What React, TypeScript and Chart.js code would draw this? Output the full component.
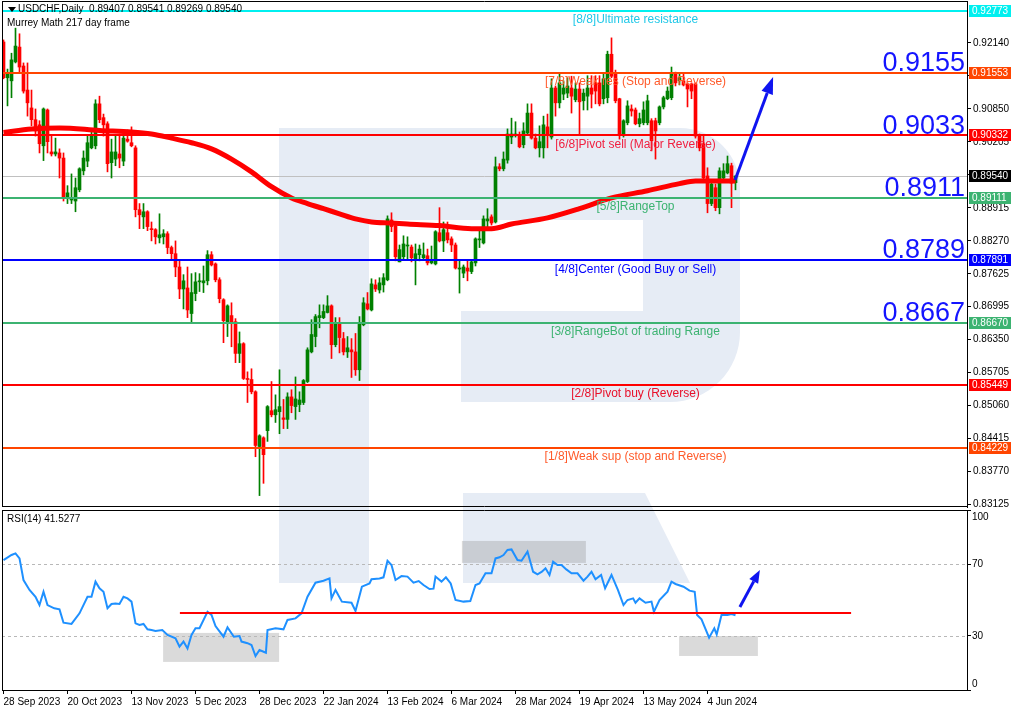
import React, { useEffect, useRef } from "react";
import { Chart, registerables } from "chart.js";

Chart.register(...registerables);

const FONT = "'Liberation Sans', Arial, sans-serif";

// ---- Candles (USDCHF daily) ----
const open = [
  0.9216, 0.9146, 0.9140, 0.9177, 0.9206, 0.9169, 0.9122, 0.9087, 0.9064, 0.9054,
  0.9013, 0.9083, 0.9001, 0.8997, 0.8999, 0.8989, 0.8911, 0.8907, 0.8905, 0.8927,
  0.8964, 0.8983, 0.9009, 0.9013, 0.9095, 0.9068, 0.9056, 0.8980, 0.8987, 0.8997,
  0.8983, 0.9026, 0.9019, 0.9009, 0.8888, 0.8874, 0.8884, 0.8851, 0.8849, 0.8833,
  0.8835, 0.8841, 0.8814, 0.8802, 0.8776, 0.8733, 0.8735, 0.8685, 0.8724, 0.8747,
  0.8745, 0.8749, 0.8800, 0.8782, 0.8751, 0.8712, 0.8667, 0.8681, 0.8669, 0.8607,
  0.8626, 0.8558, 0.8556, 0.8532, 0.8425, 0.8442, 0.8456, 0.8495, 0.8487, 0.8493,
  0.8481, 0.8478, 0.8522, 0.8503, 0.8507, 0.8511, 0.8552, 0.8610, 0.8640, 0.8677,
  0.8677, 0.8687, 0.8700, 0.8624, 0.8667, 0.8636, 0.8610, 0.8614, 0.8610, 0.8575,
  0.8663, 0.8704, 0.8692, 0.8741, 0.8731, 0.8741, 0.8751, 0.8868, 0.8857, 0.8786,
  0.8796, 0.8817, 0.8815, 0.8790, 0.8800, 0.8794, 0.8798, 0.8784, 0.8782, 0.8843,
  0.8827, 0.8843, 0.8831, 0.8819, 0.8772, 0.8764, 0.8774, 0.8767, 0.8784, 0.8829,
  0.8823, 0.8866, 0.8874, 0.8864, 0.8972, 0.8968, 0.8985, 0.9030, 0.9034, 0.9034,
  0.9015, 0.9038, 0.9077, 0.9028, 0.9009, 0.9009, 0.9050, 0.9030, 0.9126, 0.9097,
  0.9114, 0.9116, 0.9126, 0.9103, 0.9124, 0.9101, 0.9110, 0.9126, 0.9136, 0.9136,
  0.9105, 0.9107, 0.9192, 0.9153, 0.9105, 0.9034, 0.9058, 0.9085, 0.9083, 0.9056,
  0.9058, 0.9058, 0.9062, 0.9062, 0.9058, 0.9089, 0.9105, 0.9107, 0.9153, 0.9140,
  0.9140, 0.9134, 0.9134, 0.9134, 0.9032, 0.9017, 0.8954, 0.8900, 0.8931, 0.8892,
  0.8950, 0.8960, 0.8974, 0.89407,
];
const high = [
  0.9220, 0.9163, 0.9194, 0.9243, 0.9232, 0.9175, 0.9175, 0.9122, 0.9085, 0.9062,
  0.9087, 0.9085, 0.9032, 0.9028, 0.9007, 0.8999, 0.8935, 0.8958, 0.8950, 0.8970,
  0.9003, 0.9034, 0.9040, 0.9103, 0.9110, 0.9075, 0.9060, 0.9026, 0.9032, 0.9036,
  0.9038, 0.9044, 0.9050, 0.9013, 0.8900, 0.8900, 0.8886, 0.8864, 0.8851, 0.8880,
  0.8849, 0.8845, 0.8817, 0.8827, 0.8790, 0.8761, 0.8776, 0.8763, 0.8765, 0.8763,
  0.8778, 0.8808, 0.8806, 0.8784, 0.8755, 0.8714, 0.8702, 0.8706, 0.8675, 0.8649,
  0.8628, 0.8571, 0.8577, 0.8534, 0.8448, 0.8444, 0.8505, 0.8552, 0.8526, 0.8575,
  0.8517, 0.8530, 0.8536, 0.8561, 0.8532, 0.8556, 0.8618, 0.8673, 0.8683, 0.8702,
  0.8702, 0.8720, 0.8702, 0.8677, 0.8677, 0.8648, 0.8640, 0.8636, 0.8646, 0.8679,
  0.8716, 0.8726, 0.8753, 0.8751, 0.8755, 0.8763, 0.8876, 0.8882, 0.8858, 0.8819,
  0.8837, 0.8835, 0.8819, 0.8821, 0.8819, 0.8823, 0.8811, 0.8817, 0.8847, 0.8892,
  0.8864, 0.8864, 0.8835, 0.8823, 0.8790, 0.8780, 0.8790, 0.8790, 0.8833, 0.8853,
  0.8876, 0.8890, 0.8878, 0.8991, 0.8978, 0.9001, 0.9046, 0.9067, 0.9060, 0.9040,
  0.9058, 0.9095, 0.9095, 0.9036, 0.9052, 0.9071, 0.9075, 0.9144, 0.9130, 0.9153,
  0.9140, 0.9146, 0.9149, 0.9136, 0.9136, 0.9124, 0.9150, 0.9150, 0.9150, 0.9150,
  0.9153, 0.9198, 0.9224, 0.9161, 0.9106, 0.9064, 0.9101, 0.9093, 0.9087, 0.9077,
  0.9099, 0.9112, 0.9066, 0.9067, 0.9091, 0.9110, 0.9128, 0.9167, 0.9157, 0.9155,
  0.9153, 0.9136, 0.9136, 0.9136, 0.9036, 0.9032, 0.8970, 0.8946, 0.8938, 0.8970,
  0.8978, 0.8993, 0.8979, 0.89541,
];
const low = [
  0.9144, 0.9091, 0.9107, 0.9175, 0.9155, 0.9116, 0.9071, 0.9052, 0.9032, 0.8999,
  0.8984, 0.8999, 0.8993, 0.8993, 0.8950, 0.8905, 0.8900, 0.8900, 0.8884, 0.8923,
  0.8956, 0.8972, 0.9007, 0.9007, 0.9058, 0.9032, 0.8962, 0.8950, 0.8974, 0.8970,
  0.8974, 0.9020, 0.9011, 0.8874, 0.8851, 0.8851, 0.8847, 0.8827, 0.8821, 0.8823,
  0.8821, 0.8802, 0.8790, 0.8757, 0.8714, 0.8694, 0.8677, 0.8667, 0.8710, 0.8728,
  0.8726, 0.8741, 0.8778, 0.8747, 0.8706, 0.8628, 0.8640, 0.8620, 0.8589, 0.8589,
  0.8556, 0.8511, 0.8528, 0.8405, 0.8329, 0.8353, 0.8435, 0.8483, 0.8472, 0.8450,
  0.8460, 0.8460, 0.8491, 0.8478, 0.8493, 0.8507, 0.8550, 0.8608, 0.8620, 0.8657,
  0.8675, 0.8686, 0.8597, 0.8620, 0.8608, 0.8604, 0.8599, 0.8560, 0.8564, 0.8554,
  0.8661, 0.8692, 0.8690, 0.8728, 0.8725, 0.8727, 0.8749, 0.8845, 0.8788, 0.8786,
  0.8792, 0.8790, 0.8786, 0.8741, 0.8788, 0.8790, 0.8780, 0.8782, 0.8780, 0.8825,
  0.8806, 0.8823, 0.8806, 0.8772, 0.8725, 0.8755, 0.8749, 0.8763, 0.8778, 0.8814,
  0.8821, 0.8851, 0.8858, 0.8862, 0.8964, 0.8964, 0.8979, 0.9017, 0.9030, 0.9009,
  0.9009, 0.9036, 0.9026, 0.9007, 0.8991, 0.8989, 0.9009, 0.9026, 0.9071, 0.9087,
  0.9103, 0.9107, 0.9077, 0.9099, 0.9036, 0.9083, 0.9083, 0.9087, 0.9095, 0.9091,
  0.9095, 0.9097, 0.9146, 0.9097, 0.9026, 0.9030, 0.9054, 0.9071, 0.9054, 0.9050,
  0.9054, 0.9054, 0.9003, 0.8987, 0.9054, 0.9085, 0.9103, 0.9103, 0.9130, 0.9132,
  0.9130, 0.9089, 0.9105, 0.9028, 0.9003, 0.8946, 0.8882, 0.8896, 0.8886, 0.8880,
  0.8946, 0.8958, 0.8892, 0.89269,
];
const close = [
  0.9146, 0.9153, 0.9181, 0.9208, 0.9167, 0.9120, 0.9097, 0.9064, 0.9042, 0.9017,
  0.9085, 0.9021, 0.8997, 0.9001, 0.8989, 0.8913, 0.8921, 0.8911, 0.8931, 0.8968,
  0.8989, 0.9019, 0.9032, 0.9095, 0.9064, 0.9054, 0.8978, 0.9001, 0.9001, 0.8989,
  0.9028, 0.9022, 0.9013, 0.8888, 0.8878, 0.8884, 0.8855, 0.8849, 0.8835, 0.8839,
  0.8841, 0.8814, 0.8802, 0.8776, 0.8733, 0.8749, 0.8692, 0.8726, 0.8747, 0.8749,
  0.8749, 0.8800, 0.8780, 0.8751, 0.8714, 0.8671, 0.8700, 0.8667, 0.8607, 0.8626,
  0.8558, 0.8556, 0.8532, 0.8427, 0.8446, 0.8409, 0.8503, 0.8487, 0.8497, 0.8503,
  0.8478, 0.8522, 0.8505, 0.8518, 0.8516, 0.8554, 0.8614, 0.8644, 0.8679, 0.8681,
  0.8689, 0.8700, 0.8624, 0.8667, 0.8638, 0.8610, 0.8618, 0.8610, 0.8575, 0.8667,
  0.8706, 0.8694, 0.8743, 0.8733, 0.8745, 0.8755, 0.8870, 0.8855, 0.8796, 0.8810,
  0.8821, 0.8819, 0.8794, 0.8802, 0.8811, 0.8800, 0.8784, 0.8790, 0.8845, 0.8827,
  0.8849, 0.8829, 0.8819, 0.8774, 0.8774, 0.8776, 0.8768, 0.8786, 0.8831, 0.8831,
  0.8870, 0.8870, 0.8862, 0.8972, 0.8968, 0.8987, 0.9036, 0.9036, 0.9036, 0.9011,
  0.9042, 0.9077, 0.9028, 0.9009, 0.9021, 0.9054, 0.9034, 0.9126, 0.9097, 0.9136,
  0.9126, 0.9130, 0.9110, 0.9124, 0.9099, 0.9116, 0.9126, 0.9114, 0.9120, 0.9095,
  0.9144, 0.9192, 0.9149, 0.9101, 0.9036, 0.9062, 0.9091, 0.9081, 0.9056, 0.9066,
  0.9083, 0.9101, 0.9023, 0.9042, 0.9089, 0.9107, 0.9120, 0.9155, 0.9136, 0.9146,
  0.9132, 0.9124, 0.9120, 0.9032, 0.9009, 0.8950, 0.8900, 0.8938, 0.8892, 0.8964,
  0.8964, 0.8978, 0.8940, 0.89540,
];

// ---- Moving average (217) sampled along its drawn path ----
const maIdx = [0, 7, 14, 24, 32, 37, 42, 47, 52, 57, 62, 67, 72, 76, 80, 84, 88, 92, 97, 101, 109, 117, 122, 127, 136, 144, 152, 161, 169, 173, 183];
const maVal = [0.9039, 0.9046, 0.9048, 0.9043, 0.9040, 0.9036, 0.9028, 0.9019, 0.9007, 0.8987, 0.8962, 0.8933, 0.8911, 0.8900, 0.8890, 0.8880, 0.8870, 0.8864, 0.8862, 0.8860, 0.8857, 0.8851, 0.8851, 0.8860, 0.8872, 0.8890, 0.8911, 0.8925, 0.8939, 0.8944, 0.8944];

// ---- RSI(14) ----
const rsiIdx = [0, 2, 3, 4, 5, 6.5, 8, 9, 10, 11, 12.7, 14, 15, 17, 19, 21, 22, 23, 24, 25, 26, 27, 28, 29, 30, 31, 32, 33, 34, 35, 36, 37, 38, 39.7, 41, 43, 44, 45, 46, 47, 48, 49, 51, 52, 53, 55, 56, 57.6, 59, 59.5, 61, 62, 63, 64, 65.6, 66, 68, 70, 71, 73, 74.5, 76, 78, 80, 81.5, 82, 83, 84.6, 87, 88, 89.6, 91.5, 92, 94, 95, 96, 97, 98, 99.5, 101, 102.5, 103.8, 105, 106.5, 107.5, 108, 109.5, 110.6, 111.8, 113, 115, 116.7, 118, 119, 120.5, 122, 123, 124, 125, 126, 127, 128.5, 129.5, 131, 132.4, 133.5, 134.6, 135.5, 136.5, 137.4, 138.5, 139.5, 140.7, 142, 143.5, 145, 146, 147, 148, 149.4, 150.4, 152, 153.6, 155, 156, 157.4, 158, 159, 160.5, 162, 162.6, 164, 166, 167, 168, 170, 171.5, 172.8, 173.4, 174.5, 176.4, 177.7, 178.3, 179.5, 181, 182, 183];
const rsiVal = [72.2, 75, 75.9, 73.1, 61.1, 55.6, 51.8, 47.2, 54.6, 47.2, 45.4, 44.8, 37.4, 36.7, 42.6, 51.8, 51.8, 60.2, 56.5, 54.6, 45.4, 47.8, 48.1, 47.8, 51.8, 50.9, 49.1, 37, 36.1, 36.7, 33.7, 33.3, 32.8, 33.3, 30.6, 28.7, 24.1, 26.9, 23.1, 30.6, 34.3, 34.3, 43.5, 41.7, 35.5, 29.6, 34.8, 29.6, 30, 26.9, 26, 25, 18.9, 22.2, 20.7, 33.3, 34.3, 33.7, 38.9, 39.8, 42.6, 51.8, 59.6, 60.7, 62, 50.9, 55.6, 49.1, 48.5, 43.9, 57.4, 59.2, 61.5, 62, 62.6, 71.8, 69.4, 61.1, 63.3, 63, 59.6, 60.5, 58.3, 56.1, 56.3, 63, 60.2, 62.6, 59.2, 50, 49.1, 49.4, 58.3, 59.2, 64.8, 64.8, 73.1, 73.7, 75, 77.8, 78.1, 72.2, 71.8, 76.9, 65.7, 64.3, 65.7, 67.6, 63.9, 71.3, 69.4, 69.4, 67, 64.8, 64.8, 60.7, 63, 65.7, 61.5, 63.9, 56.5, 63.9, 55.6, 47.2, 50, 50.9, 48.5, 50.9, 48.5, 49.1, 43.5, 50, 54.6, 60.2, 58.9, 57.4, 55.2, 54.6, 41.7, 39.3, 29.1, 34.3, 30.9, 41.7, 41.7, 42.2, 41.53];
const rsiLast = "41.5277";

// ---- Axes ----
const dateTickIdx = [0, 16, 32, 48, 64, 80, 96, 112, 128, 144, 160, 176];
const dateLabels = ["28 Sep 2023", "20 Oct 2023", "13 Nov 2023", "5 Dec 2023", "28 Dec 2023", "22 Jan 2024", "13 Feb 2024", "6 Mar 2024", "28 Mar 2024", "19 Apr 2024", "13 May 2024", "4 Jun 2024"];
const priceTicks = [0.9214, 0.91495, 0.9085, 0.90205, 0.8956, 0.88915, 0.8827, 0.87625, 0.86995, 0.8635, 0.85705, 0.8506, 0.84415, 0.8377, 0.83125];
const rsiTicks = [0, 30, 70, 100];

// ---- Murrey Math levels ----
const murreyValues = [0.92773, 0.91553, 0.90332, 0.89111, 0.87891, 0.8667, 0.85449, 0.84229];
const murreyNames = [
  "[8/8]Ultimate resistance",
  "[7/8]Weak res (Stop and Reverse)",
  "[6/8]Pivot sell (Major Reverse)",
  "[5/8]RangeTop",
  "[4/8]Center (Good Buy or Sell)",
  "[3/8]RangeBot of trading Range",
  "[2/8]Pivot buy (Reverse)",
  "[1/8]Weak sup (stop and Reverse)",
];
const murreyLineColors = ["#00f0f0", "#ff4500", "#ff0000", "#3cb371", "#0000ff", "#3cb371", "#ff0000", "#ff4500"];
const murreyTextColors = ["#20c8e8", "#ff5a2a", "#f02040", "#3cb371", "#0000ff", "#3cb371", "#e8102a", "#ff5a2a"];
const murreyTextIdx = 158;
const bigLabelValues = [0.9155, 0.9033, 0.8911, 0.8789, 0.8667];
const lastPrice = 0.8954;

// ---- Annotations ----
const mainArrowX = [182.9, 192.4];
const mainArrowY = [0.8946, 0.91475];
const rsiArrowX = [184.1, 189.1];
const rsiArrowY = [46.1, 66.7];
const rsiLineX = [44.1, 211.9];
const rsiLineVal = 42.8;
const rsiBoxX0 = [39.9, 114.6, 168.9];
const rsiBoxX1 = [68.9, 145.6, 188.6];
const rsiBoxTop = [31.7, 82.8, 30];
const rsiBoxBottom = [15.6, 70.6, 18.9];

const X_MIN = -0.375;
const X_MAX = 240.875;
const Y_MIN = 0.83067;
const Y_MAX = 0.92961;

function drawArrow(ctx: CanvasRenderingContext2D, x0: number, y0: number, x1: number, y1: number, color: string, w: number, headLen: number, headW: number) {
  const ang = Math.atan2(y1 - y0, x1 - x0);
  const bx = x1 - headLen * Math.cos(ang);
  const by = y1 - headLen * Math.sin(ang);
  ctx.strokeStyle = color;
  ctx.lineWidth = w;
  ctx.beginPath();
  ctx.moveTo(x0, y0);
  ctx.lineTo(bx, by);
  ctx.stroke();
  ctx.fillStyle = color;
  ctx.beginPath();
  ctx.moveTo(x1, y1);
  ctx.lineTo(bx + (headW / 2) * Math.sin(ang), by - (headW / 2) * Math.cos(ang));
  ctx.lineTo(bx - (headW / 2) * Math.sin(ang), by + (headW / 2) * Math.cos(ang));
  ctx.closePath();
  ctx.fill();
}

export default function App() {
  const mainRef = useRef<HTMLCanvasElement>(null);
  const rsiRef = useRef<HTMLCanvasElement>(null);

  useEffect(() => {
    if (!mainRef.current || !rsiRef.current) return;
    const idx = open.map((_, i) => i);
    const colors = idx.map((i) => (close[i] >= open[i] ? "#008000" : "#ff0000"));

    const mainPlugin = {
      id: "mainDeco",
      beforeDatasetsDraw(chart: any) {
        const { ctx, chartArea: a, scales } = chart;
        const y = scales.y;
        ctx.save();
        const yp = Math.round(y.getPixelForValue(lastPrice)) + 0.5;
        ctx.strokeStyle = "#c0c0c0";
        ctx.lineWidth = 1;
        ctx.beginPath();
        ctx.moveTo(a.left, yp);
        ctx.lineTo(a.right, yp);
        ctx.stroke();
        ctx.restore();
      },
      afterDatasetsDraw(chart: any) {
        const { ctx, chartArea: a, scales } = chart;
        const x = scales.x;
        const y = scales.y;
        ctx.save();
        ctx.beginPath();
        ctx.rect(a.left, a.top, a.right - a.left, a.bottom - a.top);
        ctx.clip();
        murreyValues.forEach((v, i) => {
          const py = Math.round(y.getPixelForValue(v));
          ctx.strokeStyle = murreyLineColors[i];
          ctx.lineWidth = 2;
          ctx.beginPath();
          ctx.moveTo(a.left, py);
          ctx.lineTo(a.right, py);
          ctx.stroke();
        });
        ctx.font = `12px ${FONT}`;
        ctx.textAlign = "center";
        ctx.textBaseline = "middle";
        const tx = x.getPixelForValue(murreyTextIdx);
        murreyValues.forEach((v, i) => {
          ctx.fillStyle = murreyTextColors[i];
          ctx.fillText(murreyNames[i], tx, y.getPixelForValue(v) + 9);
        });
        ctx.font = `27px ${FONT}`;
        ctx.textAlign = "right";
        ctx.textBaseline = "alphabetic";
        ctx.fillStyle = "#1414ff";
        bigLabelValues.forEach((v) => {
          ctx.fillText(v.toFixed(4), a.right - 2, y.getPixelForValue(v) - 2);
        });
        drawArrow(
          ctx,
          x.getPixelForValue(mainArrowX[0]),
          y.getPixelForValue(mainArrowY[0]),
          x.getPixelForValue(mainArrowX[1]),
          y.getPixelForValue(mainArrowY[1]),
          "#0f14f0",
          3,
          17,
          12
        );
        ctx.restore();
      },
      afterDraw(chart: any) {
        const { ctx, chartArea: a, scales } = chart;
        const y = scales.y;
        ctx.save();
        ctx.strokeStyle = "#000";
        ctx.lineWidth = 1;
        ctx.beginPath();
        ctx.moveTo(a.left + 0.5, a.top);
        ctx.lineTo(a.left + 0.5, a.bottom);
        ctx.moveTo(a.left, a.top + 0.5);
        ctx.lineTo(a.right, a.top + 0.5);
        ctx.moveTo(a.left, a.bottom - 0.5);
        ctx.lineTo(a.right, a.bottom - 0.5);
        ctx.stroke();
        const tagVals = [...murreyValues, lastPrice];
        const tagCols = [...murreyLineColors, "#000000"];
        ctx.font = `10px ${FONT}`;
        ctx.textAlign = "left";
        ctx.textBaseline = "middle";
        tagVals.forEach((v, i) => {
          const py = Math.round(y.getPixelForValue(v));
          ctx.fillStyle = tagCols[i];
          ctx.fillRect(a.right + 2, py - 6, 42, 12);
          ctx.fillStyle = "#ffffff";
          ctx.fillText(v.toFixed(5), a.right + 5, py + 0.5);
        });
        ctx.restore();
      },
    };

    const main = new Chart(mainRef.current, {
      type: "bar",
      data: {
        datasets: [
          {
            type: "line",
            label: "MA217",
            data: maIdx.map((xv, i) => ({ x: xv, y: maVal[i] })),
            borderColor: "#ff0000",
            borderWidth: 5,
            pointRadius: 0,
            cubicInterpolationMode: "monotone",
            order: 0,
          } as any,
          {
            type: "bar",
            label: "body",
            data: idx.map((i) => ({ x: i, y: [open[i], close[i]] })),
            backgroundColor: colors,
            borderWidth: 0,
            barThickness: 3,
            minBarLength: 1,
            grouped: false,
            order: 1,
          } as any,
          {
            type: "bar",
            label: "wick",
            data: idx.map((i) => ({ x: i, y: [low[i], high[i]] })),
            backgroundColor: colors,
            borderWidth: 0,
            barThickness: 1,
            grouped: false,
            order: 2,
          } as any,
        ],
      },
      options: {
        animation: false,
        responsive: false,
        maintainAspectRatio: false,
        layout: { padding: { left: 2, top: 1, right: 0, bottom: 2 } },
        plugins: { legend: { display: false }, tooltip: { enabled: false } },
        scales: {
          x: { type: "linear", min: X_MIN, max: X_MAX, display: false, offset: false, grid: { offset: false } },
          y: {
            type: "linear",
            position: "right",
            min: Y_MIN,
            max: Y_MAX,
            afterFit: (s: any) => {
              s.width = 46;
              s.paddingTop = 0;
              s.paddingBottom = 0;
            },
            afterBuildTicks: (s: any) => {
              s.ticks = priceTicks.map((v) => ({ value: v }));
            },
            ticks: {
              callback: (v: any) => Number(v).toFixed(5),
              font: { family: FONT, size: 10 },
              color: "#000",
              padding: 2,
              autoSkip: false,
            },
            grid: { drawOnChartArea: false, drawTicks: true, tickLength: 4, color: "#000" },
            border: { display: true, color: "#000", width: 1 },
          },
        },
      } as any,
      plugins: [mainPlugin],
    });

    const rsiPlugin = {
      id: "rsiDeco",
      beforeDatasetsDraw(chart: any) {
        const { ctx, chartArea: a, scales } = chart;
        const x = scales.x;
        const y = scales.y;
        ctx.save();
        ctx.fillStyle = "rgba(140,140,140,0.32)";
        rsiBoxX0.forEach((x0, i) => {
          const px0 = x.getPixelForValue(x0);
          const px1 = x.getPixelForValue(rsiBoxX1[i]);
          const py0 = y.getPixelForValue(rsiBoxTop[i]);
          const py1 = y.getPixelForValue(rsiBoxBottom[i]);
          ctx.fillRect(px0, py0, px1 - px0, py1 - py0);
        });
        ctx.strokeStyle = "#b8b8b8";
        ctx.lineWidth = 1;
        ctx.setLineDash([3, 3]);
        [30, 70].forEach((v) => {
          const py = Math.round(y.getPixelForValue(v)) + 0.5;
          ctx.beginPath();
          ctx.moveTo(a.left, py);
          ctx.lineTo(a.right, py);
          ctx.stroke();
        });
        ctx.restore();
      },
      afterDatasetsDraw(chart: any) {
        const { ctx, chartArea: a, scales } = chart;
        const x = scales.x;
        const y = scales.y;
        ctx.save();
        ctx.beginPath();
        ctx.rect(a.left, a.top, a.right - a.left, a.bottom - a.top);
        ctx.clip();
        const py = Math.round(y.getPixelForValue(rsiLineVal));
        ctx.strokeStyle = "#ff0000";
        ctx.lineWidth = 2;
        ctx.beginPath();
        ctx.moveTo(x.getPixelForValue(rsiLineX[0]), py);
        ctx.lineTo(x.getPixelForValue(rsiLineX[1]), py);
        ctx.stroke();
        drawArrow(
          ctx,
          x.getPixelForValue(rsiArrowX[0]),
          y.getPixelForValue(rsiArrowY[0]),
          x.getPixelForValue(rsiArrowX[1]),
          y.getPixelForValue(rsiArrowY[1]),
          "#0f14f0",
          3,
          13,
          10
        );
        ctx.restore();
      },
      afterDraw(chart: any) {
        const { ctx, chartArea: a, scales } = chart;
        const y = scales.y;
        ctx.save();
        ctx.strokeStyle = "#000";
        ctx.lineWidth = 1;
        ctx.beginPath();
        ctx.moveTo(a.left + 0.5, a.top);
        ctx.lineTo(a.left + 0.5, a.bottom);
        ctx.moveTo(a.left, a.top + 0.5);
        ctx.lineTo(a.right, a.top + 0.5);
        ctx.stroke();
        ctx.font = `10px ${FONT}`;
        ctx.fillStyle = "#000";
        ctx.textAlign = "left";
        ctx.textBaseline = "middle";
        rsiTicks.forEach((v) => {
          let py = y.getPixelForValue(v);
          py = Math.max(a.top + 7, Math.min(a.bottom - 6, py));
          ctx.fillText(String(v), a.right + 5, py);
        });
        ctx.restore();
      },
    };

    const rsi = new Chart(rsiRef.current, {
      type: "line",
      data: {
        datasets: [
          {
            label: "RSI",
            data: rsiIdx.map((xv, i) => ({ x: xv, y: rsiVal[i] })),
            borderColor: "#1e90ff",
            borderWidth: 2,
            pointRadius: 0,
            tension: 0,
          },
        ],
      },
      options: {
        animation: false,
        responsive: false,
        maintainAspectRatio: false,
        layout: { padding: { left: 2, top: 1, right: 0, bottom: 0 } },
        plugins: { legend: { display: false }, tooltip: { enabled: false } },
        scales: {
          x: {
            type: "linear",
            min: X_MIN,
            max: X_MAX,
            offset: false,
            afterFit: (s: any) => {
              s.height = 23;
              s.paddingLeft = 0;
              s.paddingRight = 0;
            },
            afterBuildTicks: (s: any) => {
              s.ticks = dateTickIdx.map((v) => ({ value: v }));
            },
            ticks: {
              callback: (_v: any, i: number) => dateLabels[i],
              align: "start",
              font: { family: FONT, size: 10 },
              color: "#000",
              maxRotation: 0,
              autoSkip: false,
              padding: 2,
            },
            grid: { drawOnChartArea: false, drawTicks: true, tickLength: 4, color: "#000", offset: false },
            border: { display: true, color: "#000", width: 1 },
          },
          y: {
            type: "linear",
            position: "right",
            min: 0,
            max: 100,
            afterFit: (s: any) => {
              s.width = 46;
              s.paddingTop = 0;
              s.paddingBottom = 0;
            },
            afterBuildTicks: (s: any) => {
              s.ticks = rsiTicks.map((v) => ({ value: v }));
            },
            ticks: { display: false },
            grid: { drawOnChartArea: false, drawTicks: true, tickLength: 4, color: "#000" },
            border: { display: true, color: "#000", width: 1 },
          },
        },
      } as any,
      plugins: [rsiPlugin],
    });

    return () => {
      main.destroy();
      rsi.destroy();
    };
  }, []);

  const wm = "#e6ecf5";
  const txt: React.CSSProperties = {
    position: "absolute",
    font: `10px ${FONT}`,
    color: "#000",
    whiteSpace: "pre",
    lineHeight: "12px",
    zIndex: 5,
  };

  return (
    <div style={{ position: "fixed", left: 0, top: 0, width: 1013, height: 713, background: "#fff", overflow: "hidden" }}>
      {/* watermark */}
      <div style={{ position: "absolute", left: 279, top: 128, width: 90, height: 455, background: wm }} />
      <div style={{ position: "absolute", left: 369, top: 128, width: 371, height: 274, background: wm, borderRadius: "0 60px 70px 0" }} />
      <div style={{ position: "absolute", left: 369, top: 220, width: 274, height: 91, background: "#fff" }} />
      <div style={{ position: "absolute", left: 369, top: 311, width: 92, height: 91, background: "#fff" }} />
      <div
        style={{
          position: "absolute",
          left: 463,
          top: 493,
          width: 227,
          height: 90,
          background: wm,
          clipPath: "polygon(0 0, 182px 0, 227px 90px, 0 90px)",
        }}
      />
      <canvas ref={mainRef} width={1013} height={509} style={{ position: "absolute", left: 0, top: 0 }} />
      <canvas ref={rsiRef} width={1013} height={204} style={{ position: "absolute", left: 0, top: 509 }} />
      <div
        style={{
          position: "absolute",
          left: 8,
          top: 7,
          width: 0,
          height: 0,
          borderLeft: "4px solid transparent",
          borderRight: "4px solid transparent",
          borderTop: "5px solid #000",
          zIndex: 5,
        }}
      />
      <div style={{ ...txt, left: 18, top: 3 }}>{"USDCHF,Daily  0.89407 0.89541 0.89269 0.89540"}</div>
      <div style={{ ...txt, left: 7, top: 17 }}>Murrey Math 217 day frame</div>
      <div style={{ ...txt, left: 7, top: 513 }}>{`RSI(14) ${rsiLast}`}</div>
    </div>
  );
}
